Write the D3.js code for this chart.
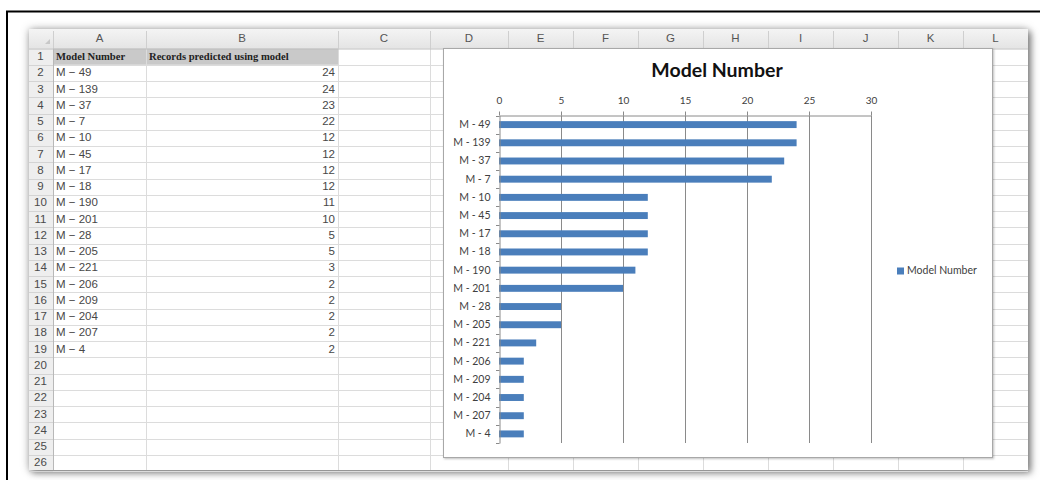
<!DOCTYPE html>
<html>
<head>
<meta charset="utf-8">
<script src="https://cdn.jsdelivr.net/npm/d3@7"></script>
<style>
  html, body { margin: 0; padding: 0; background: #fff; }
  svg { display: block; }
</style>
</head>
<body>
<svg id="page" width="1040" height="480"></svg>
<script>
// ---- data ----
const models = ["M - 49", "M - 139", "M - 37", "M - 7", "M - 10", "M - 45", "M - 17", "M - 18",
  "M - 190", "M - 201", "M - 28", "M - 205", "M - 221", "M - 206", "M - 209", "M - 204", "M - 207", "M - 4"];
const records = [24, 24, 23, 22, 12, 12, 12, 12, 11, 10, 5, 5, 3, 2, 2, 2, 2, 2];
const xTicks = [0, 5, 10, 15, 20, 25, 30];
const columnLetters = ["A", "B", "C", "D", "E", "F", "G", "H", "I", "J", "K", "L"];
const headerCells = ["Model Number", "Records predicted using model"];
const chartTitle = "Model Number";
const seriesName = "Model Number";

const rows = models.map((m, i) => ({ model: m, value: records[i] }));

// ---- worksheet layout ----
const sheet = { x: 29, y: 29, right: 1028, bottom: 470 };
const headerH = 19.5;
const rowHeaderW = 24;
const colEdges = [53, 146, 338, 430, 508, 573, 638, 703, 768, 833, 898, 963, 1028];
const rowTop = sheet.y + headerH;
const rowH = 16.25;
const rowCount = 26;
const sheetFont = "Liberation Sans, Arial, sans-serif";

const svg = d3.select("#page");
const defs = svg.append("defs");

const shadow = defs.append("filter").attr("id", "sheetShadow")
  .attr("x", "-5%").attr("y", "-5%").attr("width", "112%").attr("height", "115%");
shadow.append("feDropShadow").attr("dx", 0).attr("dy", 0).attr("stdDeviation", 4)
  .attr("flood-color", "#000").attr("flood-opacity", 0.3);
shadow.append("feDropShadow").attr("dx", 3).attr("dy", 3).attr("stdDeviation", 3)
  .attr("flood-color", "#000").attr("flood-opacity", 0.4);

const chartShadow = defs.append("filter").attr("id", "chartShadow")
  .attr("x", "-5%").attr("y", "-5%").attr("width", "110%").attr("height", "110%");
chartShadow.append("feDropShadow").attr("dx", 1).attr("dy", 1).attr("stdDeviation", 1)
  .attr("flood-color", "#000").attr("flood-opacity", 0.25);

const hdrGrad = defs.append("linearGradient").attr("id", "hdrGrad").attr("x1", 0).attr("x2", 0).attr("y1", 0).attr("y2", 1);
hdrGrad.append("stop").attr("offset", "0%").attr("stop-color", "#f4f4f4");
hdrGrad.append("stop").attr("offset", "100%").attr("stop-color", "#e4e4e4");

// outer frame
svg.append("path")
  .attr("d", "M7,480 V11.5 H1040")
  .attr("fill", "none").attr("stroke", "#000").attr("stroke-width", 2);

// sheet body
const ws = svg.append("g");
ws.append("rect")
  .attr("x", sheet.x).attr("y", sheet.y)
  .attr("width", sheet.right - sheet.x).attr("height", sheet.bottom - sheet.y)
  .attr("fill", "#fff").attr("filter", "url(#sheetShadow)");

// column header band and row header strip
ws.append("rect").attr("x", sheet.x).attr("y", sheet.y)
  .attr("width", sheet.right - sheet.x).attr("height", headerH).attr("fill", "url(#hdrGrad)");
ws.append("rect").attr("x", sheet.x).attr("y", rowTop)
  .attr("width", rowHeaderW).attr("height", sheet.bottom - rowTop).attr("fill", "#eeeeee");
// select-all corner triangle
ws.append("path")
  .attr("d", `M${sheet.x + 16},${sheet.y + 15} L${sheet.x + 21},${sheet.y + 15} L${sheet.x + 21},${sheet.y + 10} Z`)
  .attr("fill", "#c8c8c8");

// header row cell fill (A1:B1)
ws.append("rect").attr("x", colEdges[0]).attr("y", rowTop)
  .attr("width", colEdges[2] - colEdges[0]).attr("height", rowH).attr("fill", "#c9c9c9");

// gridlines
const rowLines = d3.range(rowCount + 1).map(i => rowTop + i * rowH);
ws.selectAll("line.hrow").data(rowLines.slice(1)).join("line")
  .attr("x1", colEdges[0]).attr("x2", sheet.right)
  .attr("y1", d => Math.round(d) + 0.5).attr("y2", d => Math.round(d) + 0.5)
  .attr("stroke", "#dcdcdc");
ws.selectAll("line.hrh").data(rowLines.slice(1)).join("line")
  .attr("x1", sheet.x).attr("x2", colEdges[0])
  .attr("y1", d => Math.round(d) + 0.5).attr("y2", d => Math.round(d) + 0.5)
  .attr("stroke", "#d4d4d4");
ws.selectAll("line.vcol").data(colEdges.slice(0, -1)).join("line")
  .attr("x1", d => d + 0.5).attr("x2", d => d + 0.5)
  .attr("y1", rowTop).attr("y2", sheet.bottom)
  .attr("stroke", (d, i) => i === 0 ? "#b8b8b8" : "#dcdcdc");
ws.selectAll("line.vhdr").data(colEdges.slice(0, -1)).join("line")
  .attr("x1", d => d + 0.5).attr("x2", d => d + 0.5)
  .attr("y1", sheet.y + 2).attr("y2", rowTop)
  .attr("stroke", "#cfcfcf");
ws.append("line").attr("x1", sheet.x).attr("x2", sheet.right)
  .attr("y1", rowTop + 0.5).attr("y2", rowTop + 0.5).attr("stroke", "#bdbdbd");

// column letters
ws.selectAll("text.col").data(columnLetters).join("text")
  .attr("x", (d, i) => (colEdges[i] + colEdges[i + 1]) / 2)
  .attr("y", sheet.y + headerH / 2 + 0.5)
  .attr("text-anchor", "middle").attr("dominant-baseline", "middle")
  .attr("font-family", sheetFont).attr("font-size", 11.5)
  .attr("fill", "#555").text(d => d);

// row numbers
ws.selectAll("text.rn").data(d3.range(1, rowCount + 1)).join("text")
  .attr("x", sheet.x + rowHeaderW / 2 - 0.5)
  .attr("y", d => rowTop + (d - 0.5) * rowH + 0.5)
  .attr("text-anchor", "middle").attr("dominant-baseline", "middle")
  .attr("font-family", sheetFont).attr("font-size", 11.5)
  .attr("fill", "#4a4a4a").text(d => d);

// header row text
ws.selectAll("text.hdr").data(headerCells).join("text")
  .attr("x", (d, i) => colEdges[i] + 3)
  .attr("y", rowTop + rowH / 2 + 0.5)
  .attr("dominant-baseline", "middle")
  .attr("font-family", "Liberation Serif, Times New Roman, serif").attr("font-size", 10.6)
  .attr("font-weight", "bold").attr("fill", "#222").text(d => d);

// data rows (column A: model, column B: records)
ws.selectAll("text.model").data(rows).join("text")
  .attr("x", colEdges[0] + 3)
  .attr("y", (d, i) => rowTop + (i + 1.5) * rowH + 0.5)
  .attr("dominant-baseline", "middle")
  .attr("font-family", sheetFont).attr("font-size", 11.5)
  .attr("fill", "#474747").text(d => d.model.replace(" - ", " \u2212 "));
ws.selectAll("text.val").data(rows).join("text")
  .attr("x", colEdges[2] - 3)
  .attr("y", (d, i) => rowTop + (i + 1.5) * rowH + 0.5)
  .attr("text-anchor", "end").attr("dominant-baseline", "middle")
  .attr("font-family", sheetFont).attr("font-size", 11.5)
  .attr("fill", "#474747").text(d => d.value);

// ---- embedded bar chart ----
const chartBox = { x: 443.5, y: 48.5, w: 549, h: 409 };
const plot = { left: 499, right: 871, top: 115.5, bottom: 443 };
const chartFont = "Lato, 'Open Sans', sans-serif";

const chart = svg.append("g");
chart.append("rect")
  .attr("x", chartBox.x).attr("y", chartBox.y)
  .attr("width", chartBox.w).attr("height", chartBox.h)
  .attr("fill", "#fff").attr("stroke", "#a8a8a8").attr("filter", "url(#chartShadow)");

chart.append("text")
  .attr("x", 717).attr("y", 72)
  .attr("text-anchor", "middle").attr("dominant-baseline", "middle")
  .attr("font-family", chartFont).attr("font-weight", "bold").attr("font-size", 19.5)
  .attr("fill", "#111").text(chartTitle);

const x = d3.scaleLinear().domain([0, 30]).range([plot.left, plot.right]);
const y = d3.scaleBand().domain(models).range([plot.top, plot.bottom])
  .paddingInner(0.62).paddingOuter(0.31);

// vertical gridlines
chart.append("g").selectAll("line").data(xTicks.slice(1)).join("line")
  .attr("x1", d => Math.round(x(d)) + 0.5).attr("x2", d => Math.round(x(d)) + 0.5)
  .attr("y1", plot.top).attr("y2", plot.bottom)
  .attr("stroke", "#8a8a8a");

// top value axis
const xAxis = chart.append("g")
  .attr("transform", `translate(0,${plot.top})`)
  .call(d3.axisTop(x).tickValues(xTicks).tickSize(4).tickSizeOuter(0).tickPadding(8));
xAxis.select(".domain").attr("stroke", "#8a8a8a");
xAxis.selectAll(".tick line").attr("stroke", "#8a8a8a");
xAxis.selectAll(".tick text")
  .attr("font-family", chartFont).attr("font-size", 10).attr("fill", "#404040");

// bars
chart.append("g").selectAll("rect").data(rows).join("rect")
  .attr("x", x(0)).attr("y", d => y(d.model))
  .attr("width", d => x(d.value) - x(0)).attr("height", y.bandwidth())
  .attr("fill", "#4a7ebb");

// category axis
const yAxis = chart.append("g")
  .attr("transform", `translate(${plot.left + 0.5},0)`)
  .call(d3.axisLeft(y).tickSize(0).tickPadding(9));
yAxis.select(".domain").attr("stroke", "#8a8a8a");
yAxis.selectAll(".tick text")
  .attr("font-family", chartFont).attr("font-size", 10.5).attr("fill", "#404040");
// tick marks between categories
const bounds = d3.range(models.length + 1).map(i => plot.top + i * y.step());
chart.append("g").selectAll("line").data(bounds).join("line")
  .attr("x1", plot.left - 3).attr("x2", plot.left + 0.5)
  .attr("y1", d => Math.round(d) + 0.5).attr("y2", d => Math.round(d) + 0.5)
  .attr("stroke", "#8a8a8a");

// legend
const legend = chart.append("g").attr("transform", "translate(897,271)");
legend.append("rect").attr("x", 0).attr("y", -3.5).attr("width", 7).attr("height", 7).attr("fill", "#4a7ebb");
legend.append("text").attr("x", 10).attr("y", 0.5)
  .attr("dominant-baseline", "middle")
  .attr("font-family", chartFont).attr("font-size", 10.5).attr("fill", "#404040")
  .text(seriesName);
</script>
</body>
</html>
